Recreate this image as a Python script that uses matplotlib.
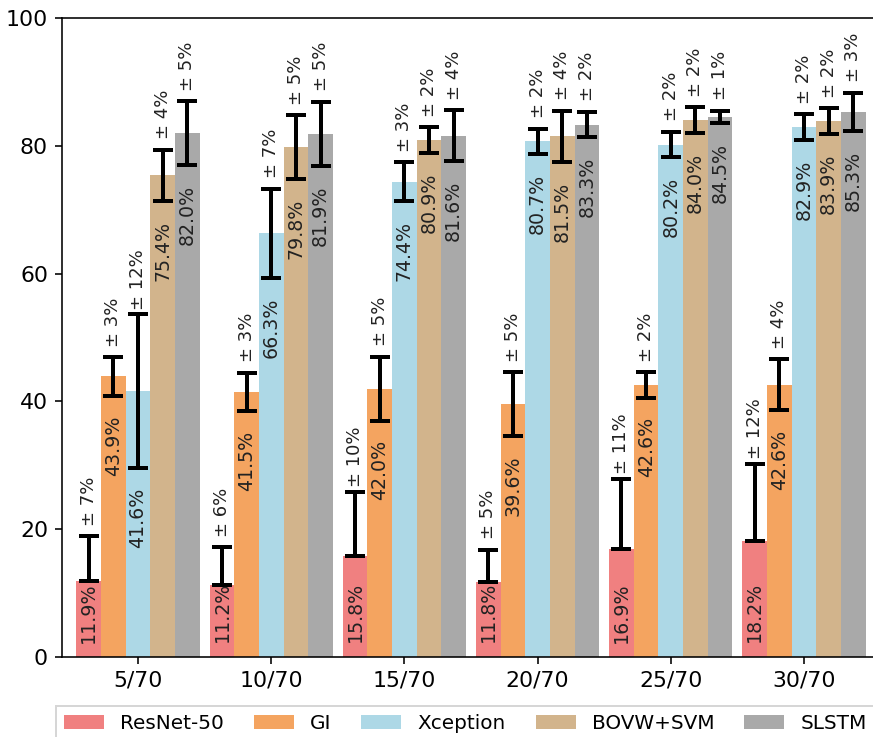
import matplotlib
matplotlib.use("Agg")
import matplotlib.pyplot as plt
import numpy as np

groups = ["5/70", "10/70", "15/70", "20/70", "25/70", "30/70"]
methods = ["ResNet-50", "GI", "Xception", "BOVW+SVM", "SLSTM"]
colors = ["lightcoral", "sandybrown", "lightblue", "tan", "darkgray"]

resnet = [11.9, 11.2, 15.8, 11.8, 16.9, 18.2]
resnet_err = [7, 6, 10, 5, 11, 12]
gi = [43.9, 41.5, 42.0, 39.6, 42.6, 42.6]
gi_err = [3, 3, 5, 5, 2, 4]
xception = [41.6, 66.3, 74.4, 80.7, 80.2, 82.9]
xception_err = [12, 7, 3, 2, 2, 2]
bovw = [75.4, 79.8, 80.9, 81.5, 84.0, 83.9]
bovw_err = [4, 5, 2, 4, 2, 2]
slstm = [82.0, 81.9, 81.6, 83.3, 84.5, 85.3]
slstm_err = [5, 5, 4, 2, 1, 3]

values = [resnet, gi, xception, bovw, slstm]
errors = [resnet_err, gi_err, xception_err, bovw_err, slstm_err]
# ResNet-50 only shows the upper half of its error bar
lower_shown = [False, True, True, True, True]

W, H = 873, 737
fig = plt.figure(figsize=(W / 144, H / 144), dpi=144)
ax = fig.add_axes([62 / W, 1 - 657 / H, (880 - 62) / W, (657 - 18) / H])

x = np.arange(len(groups))
width = 0.185
text_color = "#222222"

for i, (name, vals, errs, col) in enumerate(zip(methods, values, errors, colors)):
    pos = x + (i - 2) * width
    vals = np.array(vals)
    errs = np.array(errs, dtype=float)
    lo = errs if lower_shown[i] else np.zeros_like(errs)
    ax.bar(pos, vals, width, color=col, label=name)
    ax.errorbar(pos, vals, yerr=[lo, errs], fmt="none", ecolor="black",
                elinewidth=2, capsize=5, capthick=2)
    for px, v, e in zip(pos, vals, errs):
        y_val = v - e - 7.8
        if y_val < 7:
            y_val = 7
        ax.text(px, y_val, f"{v:.1f}%", rotation=90, ha="center", va="center",
                fontsize=9.5, color=text_color)
        ax.text(px, v + e + 5.5, f"± {int(e)}%", rotation=90, ha="center",
                va="center", fontsize=9, color=text_color)

ax.set_xlim(-0.571, 5.571)
ax.set_ylim(0, 100)
ax.set_xticks(x)
ax.set_xticklabels(groups)
ax.set_yticks(np.arange(0, 101, 20))
ax.tick_params(labelsize=11)
ax.spines["right"].set_visible(False)

fig.legend(loc="upper left", bbox_to_anchor=(56 / W, 1 - 706 / H), ncol=5,
           fontsize=10, fancybox=False, borderaxespad=0,
           handletextpad=0.8, columnspacing=1.5)

fig.savefig("out.png", dpi=144)
